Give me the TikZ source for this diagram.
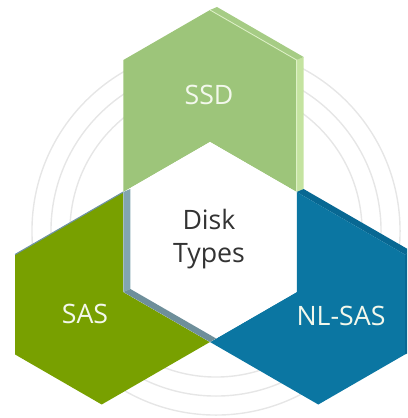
\documentclass[tikz,border=0pt]{standalone}
\usepackage{fontspec}
\setmainfont{Open Sans}
\usetikzlibrary{calc}

\definecolor{ringgray}{HTML}{E6E6E6}
\definecolor{ssdface}{HTML}{9DC57A}
\definecolor{ssdtop}{HTML}{A6CC85}
\definecolor{ssdside}{HTML}{C4E3A0}
\definecolor{ssdhi}{HTML}{DDF0C6}
\definecolor{sasface}{HTML}{78A000}
\definecolor{sasedge}{HTML}{6F93A3}
\definecolor{nlface}{HTML}{0B76A2}
\definecolor{nltop}{HTML}{086893}
\definecolor{wallleft}{HTML}{82A5B0}
\definecolor{walllow}{HTML}{6E8F9A}
\definecolor{labelwhite}{HTML}{F3F8EC}
\definecolor{textgray}{HTML}{333333}

\begin{document}
\begin{tikzpicture}[x=0.025cm,y=-0.025cm,
  ring/.style={draw=ringgray,line width=1pt},
  label text/.style={text=labelwhite,font=\fontsize{19}{24}\selectfont},
  center text/.style={text=textgray,align=center,font=\fontsize{19}{24}\selectfont}]

  \clip (0,0) rectangle (407,418);

  \foreach \r in {3.65cm,4.125cm,4.6cm}
    \draw[ring] (216,231) circle[radius=\r];

  \coordinate (T) at (210,142);
  \coordinate (UR) at (296.6,192);
  \coordinate (LR) at (296.6,292);
  \coordinate (B) at (210,342);
  \coordinate (LL) at (123.4,292);
  \coordinate (UL) at (123.4,192);

  \coordinate (ssdL) at ($(UL)+(0,-132)$);
  \coordinate (ssdT) at ($(T)+(0,-132)$);
  \coordinate (ssdR) at ($(UR)+(0,-132)$);
  \coordinate (nlT) at ($(UR)+(108.3,62.5)$);
  \coordinate (nlR) at ($(LR)+(108.3,62.5)$);
  \coordinate (nlB) at ($(B)+(108.3,62.5)$);
  \coordinate (sasT) at ($(UL)+(-108.3,62.5)$);
  \coordinate (sasL) at ($(LL)+(-108.3,62.5)$);
  \coordinate (sasB) at ($(B)+(-108.3,62.5)$);

  % SSD
  \fill[ssdside] (ssdR) -- (UR) -- ($(UR)+(7,-3)$) -- ($(ssdR)+(7,-3)$) -- cycle;
  \fill[ssdtop] (ssdT) -- (ssdR) -- ($(ssdR)+(7,-3)$) -- ($(ssdT)+(7,-3)$) -- cycle;
  \fill[ssdface] (ssdL) -- (ssdT) -- (ssdR) -- (UR) -- (T) -- (UL) -- cycle;
  \draw[ssdhi,line width=0.6pt] (ssdT) -- (ssdR) -- (UR);

  % NL-SAS
  \fill[nltop] (UR) -- (nlT) -- ($(nlT)+(7,-3)$) -- ($(UR)+(7,-3)$) -- cycle;
  \fill[nltop] (nlT) -- (nlR) -- ($(nlR)+(7,-3)$) -- ($(nlT)+(7,-3)$) -- cycle;
  \fill[nlface] (UR) -- (nlT) -- (nlR) -- (nlB) -- (B) -- (LR) -- cycle;

  % SAS
  \fill[sasface] (UL) -- (sasT) -- (sasL) -- (sasB) -- (B) -- (LL) -- cycle;
  \draw[sasedge,line width=0.8pt] (sasT) -- (UL);

  % hole
  \fill[white] (T) -- (UR) -- (LR) -- (B) -- (LL) -- (UL) -- cycle;
  \begin{scope}
    \clip (T) -- (UR) -- (LR) -- (B) -- (LL) -- (UL) -- cycle;
    \fill[wallleft] (UL) -- (LL) -- ($(LL)+(7,-3)$) -- ($(UL)+(7,-3)$) -- cycle;
    \fill[walllow] (LL) -- (B) -- ($(B)+(7,-3)$) -- ($(LL)+(7,-3)$) -- cycle;
  \end{scope}

  \node[label text] (ssd) at (209,95) {SSD};
  \node[label text] (sas) at (85,314) {SAS};
  \node[label text] (nlsas) at (341,316) {NL-SAS};
  \node[center text] (disk) at (209,239) {Disk\\Types};
\end{tikzpicture}
\end{document}
